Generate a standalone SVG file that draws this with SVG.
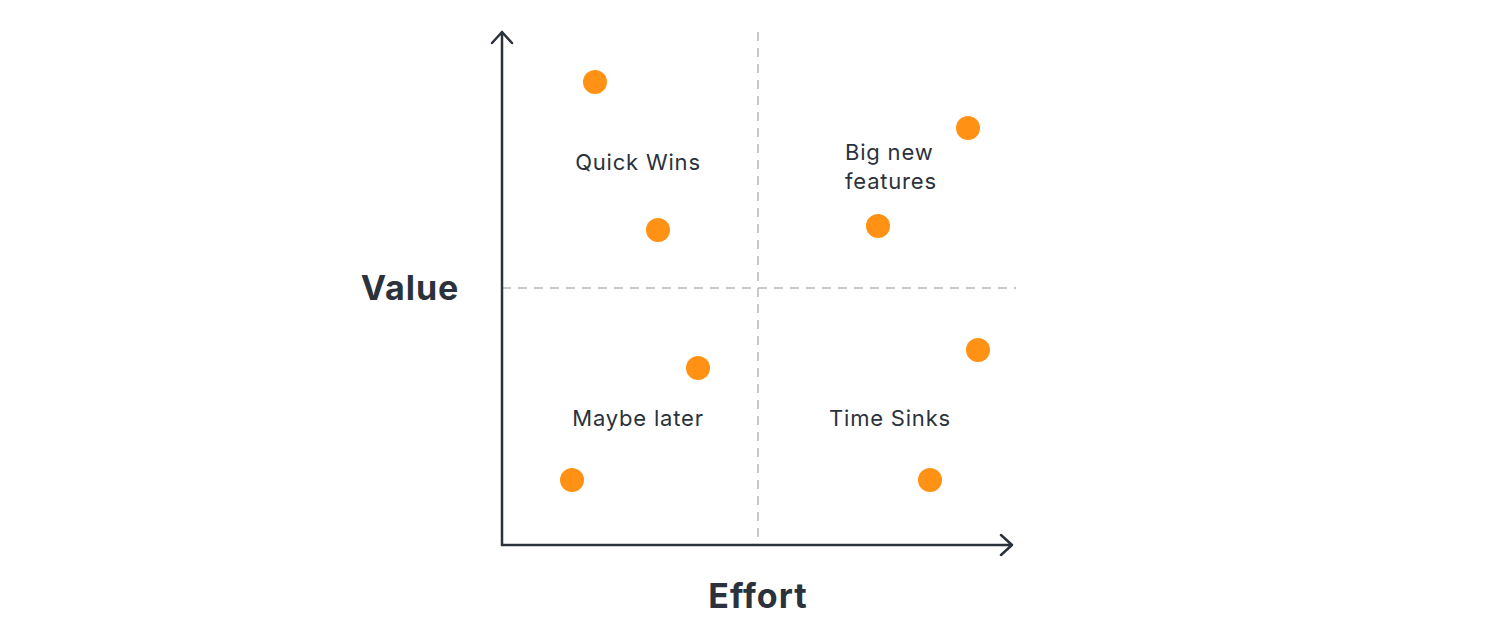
<svg xmlns="http://www.w3.org/2000/svg" width="1498" height="644" viewBox="0 0 1498 644">
<style>
.axis{stroke:#2b323b;stroke-width:2.5;fill:none;stroke-linecap:round;stroke-linejoin:round}
.grid{stroke:#b8b8b8;stroke-width:1.5;stroke-dasharray:9 7;fill:none}
.dot{fill:#ff9214}
.lbl{font-family:Inter,"Open Sans",sans-serif;font-size:22px;fill:#2b323b;letter-spacing:0.8px}
.ax{font-family:Inter,"Open Sans",sans-serif;font-size:34px;font-weight:700;fill:#2b323b;letter-spacing:1px}
</style>
<rect width="1498" height="644" fill="#fff"/>
<g id="connectors">
<line class="grid" x1="758" y1="32" x2="758" y2="545"/>
<line class="grid" x1="502" y1="288" x2="1016" y2="288"/>
<path class="axis" d="M502 545V32M492 43L502 32L512 43"/>
<path class="axis" d="M502 545H1012M1001 535L1012 545L1001 555"/>
</g>
<g id="dots">
<circle class="dot" cx="595" cy="82" r="12"/>
<circle class="dot" cx="658" cy="230" r="12"/>
<circle class="dot" cx="968" cy="128" r="12"/>
<circle class="dot" cx="878" cy="226" r="12"/>
<circle class="dot" cx="698" cy="368" r="12"/>
<circle class="dot" cx="978" cy="350" r="12"/>
<circle class="dot" cx="572" cy="480" r="12"/>
<circle class="dot" cx="930" cy="480" r="12"/>
</g>
<g id="quick-wins"><text class="lbl" x="638" y="170" text-anchor="middle">Quick Wins</text></g>
<g id="big-new-features"><text class="lbl" x="845" y="160">Big new</text><text class="lbl" x="845" y="189">features</text></g>
<g id="maybe-later"><text class="lbl" x="638" y="426" text-anchor="middle">Maybe later</text></g>
<g id="time-sinks"><text class="lbl" x="890" y="426" text-anchor="middle">Time Sinks</text></g>
<g id="value"><text class="ax" x="410" y="300" text-anchor="middle">Value</text></g>
<g id="effort"><text class="ax" x="758" y="608" text-anchor="middle">Effort</text></g>
</svg>
